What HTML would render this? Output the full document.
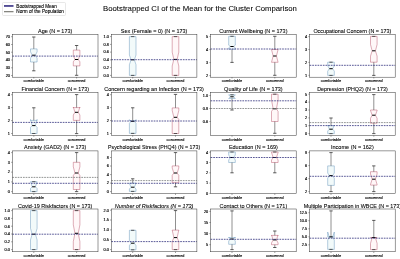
<!DOCTYPE html>
<html><head><meta charset="utf-8"><title>Bootstrapped CI of the Mean for the Cluster Comparison</title>
<style>
html,body{margin:0;padding:0;background:#fff;width:400px;height:259px;overflow:hidden}
#wrap{will-change:transform;width:400px;height:259px}
svg{display:block}
text{font-family:"Liberation Sans", sans-serif}
</style></head><body>
<div id="wrap"><svg width="400" height="259" viewBox="0 0 400 259" font-family="&quot;Liberation Sans&quot;, sans-serif">
<rect width="400" height="259" fill="#fff"/>
<text x="200.00" y="11.25" text-anchor="middle" font-size="7.36" textLength="193.86" lengthAdjust="spacingAndGlyphs" text-rendering="optimizeLegibility" stroke="#000" stroke-width="0.06">Bootstrapped CI of the Mean for the Cluster Comparison</text>
<rect x="2.5" y="2.5" width="63" height="13" rx="1" fill="#fff" fill-opacity="0.8" stroke="#d0d0d0" stroke-width="0.5"/>
<line x1="4" y1="5.95" x2="13.5" y2="5.95" stroke="#4a4490" stroke-width="1.8"/>
<line x1="4" y1="11.7" x2="13.5" y2="11.7" stroke="#707068" stroke-width="1.1"/>
<text x="16.30" y="7.70" text-anchor="start" font-size="4.63" textLength="40.48" lengthAdjust="spacingAndGlyphs" text-rendering="optimizeLegibility" stroke="#000" stroke-width="0.10">Bootstrapped Mean</text>
<text x="16.30" y="12.80" text-anchor="start" font-size="4.63" textLength="47.66" lengthAdjust="spacingAndGlyphs" text-rendering="optimizeLegibility" stroke="#000" stroke-width="0.10">Norm of the Population</text>
<text x="55.20" y="33.00" text-anchor="middle" font-size="5.52" textLength="34.38" lengthAdjust="spacingAndGlyphs" text-rendering="optimizeLegibility" stroke="#000" stroke-width="0.08">Age (N = 173)</text>
<line x1="11.2" y1="36.7" x2="12.4" y2="36.7" stroke="#333" stroke-width="0.5"/>
<text x="10.00" y="38.05" text-anchor="end" font-size="4.07" textLength="4.31" lengthAdjust="spacingAndGlyphs" text-rendering="optimizeLegibility" stroke="#000" stroke-width="0.16">70</text>
<line x1="11.2" y1="44.5" x2="12.4" y2="44.5" stroke="#333" stroke-width="0.5"/>
<text x="10.00" y="45.85" text-anchor="end" font-size="4.07" textLength="4.31" lengthAdjust="spacingAndGlyphs" text-rendering="optimizeLegibility" stroke="#000" stroke-width="0.16">60</text>
<line x1="11.2" y1="52.2" x2="12.4" y2="52.2" stroke="#333" stroke-width="0.5"/>
<text x="10.00" y="53.55" text-anchor="end" font-size="4.07" textLength="4.31" lengthAdjust="spacingAndGlyphs" text-rendering="optimizeLegibility" stroke="#000" stroke-width="0.16">50</text>
<line x1="11.2" y1="60" x2="12.4" y2="60" stroke="#333" stroke-width="0.5"/>
<text x="10.00" y="61.35" text-anchor="end" font-size="4.07" textLength="4.31" lengthAdjust="spacingAndGlyphs" text-rendering="optimizeLegibility" stroke="#000" stroke-width="0.16">40</text>
<line x1="11.2" y1="67.8" x2="12.4" y2="67.8" stroke="#333" stroke-width="0.5"/>
<text x="10.00" y="69.15" text-anchor="end" font-size="4.07" textLength="4.31" lengthAdjust="spacingAndGlyphs" text-rendering="optimizeLegibility" stroke="#000" stroke-width="0.16">30</text>
<line x1="11.2" y1="75.5" x2="12.4" y2="75.5" stroke="#333" stroke-width="0.5"/>
<text x="10.00" y="76.85" text-anchor="end" font-size="4.07" textLength="4.31" lengthAdjust="spacingAndGlyphs" text-rendering="optimizeLegibility" stroke="#000" stroke-width="0.16">20</text>
<line x1="33.8" y1="77.2" x2="33.8" y2="78.4" stroke="#333" stroke-width="0.5"/>
<text x="33.80" y="82.40" text-anchor="middle" font-size="4.24" textLength="20.49" lengthAdjust="spacingAndGlyphs" text-rendering="optimizeLegibility" stroke="#000" stroke-width="0.14">comfortable</text>
<line x1="76.6" y1="77.2" x2="76.6" y2="78.4" stroke="#333" stroke-width="0.5"/>
<text x="76.60" y="82.40" text-anchor="middle" font-size="4.24" textLength="17.76" lengthAdjust="spacingAndGlyphs" text-rendering="optimizeLegibility" stroke="#000" stroke-width="0.14">concerned</text>
<path d="M30.5 62 L37.1 62 L37.1 58.3 L35.45 55.2 L37.1 51.8 L37.1 48.9 L30.5 48.9 L30.5 51.8 L32.15 55.2 L30.5 58.3 L30.5 62Z" fill="#f2fafa" stroke="#4a80ad" stroke-width="0.4" stroke-linejoin="miter"/>
<line x1="33.8" y1="62" x2="33.8" y2="70.8" stroke="#333333" stroke-width="0.55"/>
<line x1="33.8" y1="48.9" x2="33.8" y2="37" stroke="#333333" stroke-width="0.55"/>
<line x1="32.15" y1="70.8" x2="35.45" y2="70.8" stroke="#333333" stroke-width="0.8"/>
<line x1="32.15" y1="37" x2="35.45" y2="37" stroke="#333333" stroke-width="0.8"/>
<line x1="32.15" y1="55.2" x2="35.45" y2="55.2" stroke="#000" stroke-width="1.0"/>
<path d="M73.3 65.9 L79.9 65.9 L79.9 61.8 L78.25 59.5 L79.9 55.5 L79.9 50.1 L73.3 50.1 L73.3 55.5 L74.95 59.5 L73.3 61.8 L73.3 65.9Z" fill="#fff7f8" stroke="#a8324f" stroke-width="0.4" stroke-linejoin="miter"/>
<line x1="76.6" y1="65.9" x2="76.6" y2="75.3" stroke="#333333" stroke-width="0.55"/>
<line x1="76.6" y1="50.1" x2="76.6" y2="45.5" stroke="#333333" stroke-width="0.55"/>
<line x1="74.95" y1="75.3" x2="78.25" y2="75.3" stroke="#333333" stroke-width="0.8"/>
<line x1="74.95" y1="45.5" x2="78.25" y2="45.5" stroke="#333333" stroke-width="0.8"/>
<line x1="74.95" y1="59.5" x2="78.25" y2="59.5" stroke="#000" stroke-width="1.0"/>
<line x1="12.4" y1="56.1" x2="98" y2="56.1" stroke="#2e2e7c" stroke-width="0.8" stroke-dasharray="1.7 0.95"/>
<rect x="12.4" y="34.45" width="85.6" height="42.75" fill="none" stroke="#333" stroke-width="0.5"/>
<text x="154.10" y="33.00" text-anchor="middle" font-size="5.52" textLength="66.61" lengthAdjust="spacingAndGlyphs" text-rendering="optimizeLegibility" stroke="#000" stroke-width="0.08">Sex (Female = 0) (N = 173)</text>
<line x1="110.1" y1="36.6" x2="111.3" y2="36.6" stroke="#333" stroke-width="0.5"/>
<text x="108.90" y="37.95" text-anchor="end" font-size="4.07" textLength="5.39" lengthAdjust="spacingAndGlyphs" text-rendering="optimizeLegibility" stroke="#000" stroke-width="0.16">1.0</text>
<line x1="110.1" y1="44.4" x2="111.3" y2="44.4" stroke="#333" stroke-width="0.5"/>
<text x="108.90" y="45.75" text-anchor="end" font-size="4.07" textLength="5.39" lengthAdjust="spacingAndGlyphs" text-rendering="optimizeLegibility" stroke="#000" stroke-width="0.16">0.8</text>
<line x1="110.1" y1="52.1" x2="111.3" y2="52.1" stroke="#333" stroke-width="0.5"/>
<text x="108.90" y="53.45" text-anchor="end" font-size="4.07" textLength="5.39" lengthAdjust="spacingAndGlyphs" text-rendering="optimizeLegibility" stroke="#000" stroke-width="0.16">0.6</text>
<line x1="110.1" y1="59.9" x2="111.3" y2="59.9" stroke="#333" stroke-width="0.5"/>
<text x="108.90" y="61.25" text-anchor="end" font-size="4.07" textLength="5.39" lengthAdjust="spacingAndGlyphs" text-rendering="optimizeLegibility" stroke="#000" stroke-width="0.16">0.4</text>
<line x1="110.1" y1="67.6" x2="111.3" y2="67.6" stroke="#333" stroke-width="0.5"/>
<text x="108.90" y="68.95" text-anchor="end" font-size="4.07" textLength="5.39" lengthAdjust="spacingAndGlyphs" text-rendering="optimizeLegibility" stroke="#000" stroke-width="0.16">0.2</text>
<line x1="110.1" y1="75.4" x2="111.3" y2="75.4" stroke="#333" stroke-width="0.5"/>
<text x="108.90" y="76.75" text-anchor="end" font-size="4.07" textLength="5.39" lengthAdjust="spacingAndGlyphs" text-rendering="optimizeLegibility" stroke="#000" stroke-width="0.16">0.0</text>
<line x1="132.7" y1="77.2" x2="132.7" y2="78.4" stroke="#333" stroke-width="0.5"/>
<text x="132.70" y="82.40" text-anchor="middle" font-size="4.24" textLength="20.49" lengthAdjust="spacingAndGlyphs" text-rendering="optimizeLegibility" stroke="#000" stroke-width="0.14">comfortable</text>
<line x1="175.5" y1="77.2" x2="175.5" y2="78.4" stroke="#333" stroke-width="0.5"/>
<text x="175.50" y="82.40" text-anchor="middle" font-size="4.24" textLength="17.76" lengthAdjust="spacingAndGlyphs" text-rendering="optimizeLegibility" stroke="#000" stroke-width="0.14">concerned</text>
<path d="M129.4 75.4 L136 75.4 L136 64.7 L134.35 59.8 L136 55 L136 36.6 L129.4 36.6 L129.4 55 L131.05 59.8 L129.4 64.7 L129.4 75.4Z" fill="#f2fafa" stroke="#4a80ad" stroke-width="0.4" stroke-linejoin="miter"/>
<line x1="131.05" y1="75.4" x2="134.35" y2="75.4" stroke="#333333" stroke-width="0.8"/>
<line x1="131.05" y1="36.6" x2="134.35" y2="36.6" stroke="#333333" stroke-width="0.8"/>
<line x1="131.05" y1="59.8" x2="134.35" y2="59.8" stroke="#000" stroke-width="1.0"/>
<path d="M172.2 75.4 L178.8 75.4 L178.8 66 L177.15 59.4 L178.8 52.1 L178.8 36.6 L172.2 36.6 L172.2 52.1 L173.85 59.4 L172.2 66 L172.2 75.4Z" fill="#fff7f8" stroke="#a8324f" stroke-width="0.4" stroke-linejoin="miter"/>
<line x1="173.85" y1="75.4" x2="177.15" y2="75.4" stroke="#333333" stroke-width="0.8"/>
<line x1="173.85" y1="36.6" x2="177.15" y2="36.6" stroke="#333333" stroke-width="0.8"/>
<line x1="173.85" y1="59.4" x2="177.15" y2="59.4" stroke="#000" stroke-width="1.0"/>
<line x1="111.3" y1="59.7" x2="196.9" y2="59.7" stroke="#2e2e7c" stroke-width="0.8" stroke-dasharray="1.7 0.95"/>
<rect x="111.3" y="34.45" width="85.6" height="42.75" fill="none" stroke="#333" stroke-width="0.5"/>
<text x="253.40" y="33.00" text-anchor="middle" font-size="5.52" textLength="68.16" lengthAdjust="spacingAndGlyphs" text-rendering="optimizeLegibility" stroke="#000" stroke-width="0.08">Current Wellbeing (N = 173)</text>
<line x1="209.4" y1="36.6" x2="210.6" y2="36.6" stroke="#333" stroke-width="0.5"/>
<text x="208.20" y="37.95" text-anchor="end" font-size="4.07" textLength="2.16" lengthAdjust="spacingAndGlyphs" text-rendering="optimizeLegibility" stroke="#000" stroke-width="0.16">5</text>
<line x1="209.4" y1="49.6" x2="210.6" y2="49.6" stroke="#333" stroke-width="0.5"/>
<text x="208.20" y="50.95" text-anchor="end" font-size="4.07" textLength="2.16" lengthAdjust="spacingAndGlyphs" text-rendering="optimizeLegibility" stroke="#000" stroke-width="0.16">4</text>
<line x1="209.4" y1="62.6" x2="210.6" y2="62.6" stroke="#333" stroke-width="0.5"/>
<text x="208.20" y="63.95" text-anchor="end" font-size="4.07" textLength="2.16" lengthAdjust="spacingAndGlyphs" text-rendering="optimizeLegibility" stroke="#000" stroke-width="0.16">3</text>
<line x1="209.4" y1="75.6" x2="210.6" y2="75.6" stroke="#333" stroke-width="0.5"/>
<text x="208.20" y="76.95" text-anchor="end" font-size="4.07" textLength="2.16" lengthAdjust="spacingAndGlyphs" text-rendering="optimizeLegibility" stroke="#000" stroke-width="0.16">2</text>
<line x1="232" y1="77.2" x2="232" y2="78.4" stroke="#333" stroke-width="0.5"/>
<text x="232.00" y="82.40" text-anchor="middle" font-size="4.24" textLength="20.49" lengthAdjust="spacingAndGlyphs" text-rendering="optimizeLegibility" stroke="#000" stroke-width="0.14">comfortable</text>
<line x1="274.8" y1="77.2" x2="274.8" y2="78.4" stroke="#333" stroke-width="0.5"/>
<text x="274.80" y="82.40" text-anchor="middle" font-size="4.24" textLength="17.76" lengthAdjust="spacingAndGlyphs" text-rendering="optimizeLegibility" stroke="#000" stroke-width="0.14">concerned</text>
<path d="M228.7 49.3 L235.3 49.3 L235.3 47.8 L233.65 46.5 L235.3 45.2 L235.3 36.3 L228.7 36.3 L228.7 45.2 L230.35 46.5 L228.7 47.8 L228.7 49.3Z" fill="#f2fafa" stroke="#4a80ad" stroke-width="0.4" stroke-linejoin="miter"/>
<line x1="232" y1="49.3" x2="232" y2="62.4" stroke="#333333" stroke-width="0.55"/>
<line x1="230.35" y1="62.4" x2="233.65" y2="62.4" stroke="#333333" stroke-width="0.8"/>
<line x1="230.35" y1="36.3" x2="233.65" y2="36.3" stroke="#333333" stroke-width="0.8"/>
<line x1="230.35" y1="46.5" x2="233.65" y2="46.5" stroke="#000" stroke-width="1.0"/>
<path d="M271.5 62.3 L278.1 62.3 L278.1 62.3 L276.45 56 L278.1 49.5 L278.1 49.5 L271.5 49.5 L271.5 49.5 L273.15 56 L271.5 62.3 L271.5 62.3Z" fill="#fff7f8" stroke="#a8324f" stroke-width="0.4" stroke-linejoin="miter"/>
<line x1="274.8" y1="62.3" x2="274.8" y2="75.3" stroke="#333333" stroke-width="0.55"/>
<line x1="274.8" y1="49.5" x2="274.8" y2="36.3" stroke="#333333" stroke-width="0.55"/>
<line x1="273.15" y1="75.3" x2="276.45" y2="75.3" stroke="#333333" stroke-width="0.8"/>
<line x1="273.15" y1="36.3" x2="276.45" y2="36.3" stroke="#333333" stroke-width="0.8"/>
<line x1="273.15" y1="56" x2="276.45" y2="56" stroke="#000" stroke-width="1.0"/>
<line x1="210.6" y1="49" x2="296.2" y2="49" stroke="#2e2e7c" stroke-width="0.8" stroke-dasharray="1.7 0.95"/>
<rect x="210.6" y="34.45" width="85.6" height="42.75" fill="none" stroke="#333" stroke-width="0.5"/>
<text x="352.40" y="33.00" text-anchor="middle" font-size="5.52" textLength="78.03" lengthAdjust="spacingAndGlyphs" text-rendering="optimizeLegibility" stroke="#000" stroke-width="0.08">Occupational Concern (N = 173)</text>
<line x1="308.4" y1="36.6" x2="309.6" y2="36.6" stroke="#333" stroke-width="0.5"/>
<text x="307.20" y="37.95" text-anchor="end" font-size="4.07" textLength="2.16" lengthAdjust="spacingAndGlyphs" text-rendering="optimizeLegibility" stroke="#000" stroke-width="0.16">4</text>
<line x1="308.4" y1="49.5" x2="309.6" y2="49.5" stroke="#333" stroke-width="0.5"/>
<text x="307.20" y="50.85" text-anchor="end" font-size="4.07" textLength="2.16" lengthAdjust="spacingAndGlyphs" text-rendering="optimizeLegibility" stroke="#000" stroke-width="0.16">3</text>
<line x1="308.4" y1="62.4" x2="309.6" y2="62.4" stroke="#333" stroke-width="0.5"/>
<text x="307.20" y="63.75" text-anchor="end" font-size="4.07" textLength="2.16" lengthAdjust="spacingAndGlyphs" text-rendering="optimizeLegibility" stroke="#000" stroke-width="0.16">2</text>
<line x1="308.4" y1="75.3" x2="309.6" y2="75.3" stroke="#333" stroke-width="0.5"/>
<text x="307.20" y="76.65" text-anchor="end" font-size="4.07" textLength="2.16" lengthAdjust="spacingAndGlyphs" text-rendering="optimizeLegibility" stroke="#000" stroke-width="0.16">1</text>
<line x1="331" y1="77.2" x2="331" y2="78.4" stroke="#333" stroke-width="0.5"/>
<text x="331.00" y="82.40" text-anchor="middle" font-size="4.24" textLength="20.49" lengthAdjust="spacingAndGlyphs" text-rendering="optimizeLegibility" stroke="#000" stroke-width="0.14">comfortable</text>
<line x1="373.8" y1="77.2" x2="373.8" y2="78.4" stroke="#333" stroke-width="0.5"/>
<text x="373.80" y="82.40" text-anchor="middle" font-size="4.24" textLength="17.76" lengthAdjust="spacingAndGlyphs" text-rendering="optimizeLegibility" stroke="#000" stroke-width="0.14">concerned</text>
<path d="M327.7 75.4 L334.3 75.4 L334.3 71.2 L332.65 68.7 L334.3 65.9 L334.3 62.2 L327.7 62.2 L327.7 65.9 L329.35 68.7 L327.7 71.2 L327.7 75.4Z" fill="#f2fafa" stroke="#4a80ad" stroke-width="0.4" stroke-linejoin="miter"/>
<line x1="329.35" y1="75.4" x2="332.65" y2="75.4" stroke="#333333" stroke-width="0.8"/>
<line x1="329.35" y1="62.2" x2="332.65" y2="62.2" stroke="#333333" stroke-width="0.8"/>
<line x1="329.35" y1="68.7" x2="332.65" y2="68.7" stroke="#000" stroke-width="1.0"/>
<path d="M370.5 62.2 L377.1 62.2 L377.1 56.1 L375.45 50.8 L377.1 44.5 L377.1 36.4 L370.5 36.4 L370.5 44.5 L372.15 50.8 L370.5 56.1 L370.5 62.2Z" fill="#fff7f8" stroke="#a8324f" stroke-width="0.4" stroke-linejoin="miter"/>
<line x1="373.8" y1="62.2" x2="373.8" y2="75.4" stroke="#333333" stroke-width="0.55"/>
<line x1="372.15" y1="75.4" x2="375.45" y2="75.4" stroke="#333333" stroke-width="0.8"/>
<line x1="372.15" y1="36.4" x2="375.45" y2="36.4" stroke="#333333" stroke-width="0.8"/>
<line x1="372.15" y1="50.8" x2="375.45" y2="50.8" stroke="#000" stroke-width="1.0"/>
<line x1="309.6" y1="65.3" x2="395.2" y2="65.3" stroke="#2e2e7c" stroke-width="0.8" stroke-dasharray="1.7 0.95"/>
<rect x="309.6" y="34.45" width="85.6" height="42.75" fill="none" stroke="#333" stroke-width="0.5"/>
<text x="55.20" y="91.25" text-anchor="middle" font-size="5.52" textLength="67.50" lengthAdjust="spacingAndGlyphs" text-rendering="optimizeLegibility" stroke="#000" stroke-width="0.08">Financial Concern (N = 173)</text>
<line x1="11.2" y1="94.7" x2="12.4" y2="94.7" stroke="#333" stroke-width="0.5"/>
<text x="10.00" y="96.05" text-anchor="end" font-size="4.07" textLength="2.16" lengthAdjust="spacingAndGlyphs" text-rendering="optimizeLegibility" stroke="#000" stroke-width="0.16">4</text>
<line x1="11.2" y1="107.6" x2="12.4" y2="107.6" stroke="#333" stroke-width="0.5"/>
<text x="10.00" y="108.95" text-anchor="end" font-size="4.07" textLength="2.16" lengthAdjust="spacingAndGlyphs" text-rendering="optimizeLegibility" stroke="#000" stroke-width="0.16">3</text>
<line x1="11.2" y1="120.6" x2="12.4" y2="120.6" stroke="#333" stroke-width="0.5"/>
<text x="10.00" y="121.95" text-anchor="end" font-size="4.07" textLength="2.16" lengthAdjust="spacingAndGlyphs" text-rendering="optimizeLegibility" stroke="#000" stroke-width="0.16">2</text>
<line x1="11.2" y1="133.5" x2="12.4" y2="133.5" stroke="#333" stroke-width="0.5"/>
<text x="10.00" y="134.85" text-anchor="end" font-size="4.07" textLength="2.16" lengthAdjust="spacingAndGlyphs" text-rendering="optimizeLegibility" stroke="#000" stroke-width="0.16">1</text>
<line x1="33.8" y1="135.45" x2="33.8" y2="136.65" stroke="#333" stroke-width="0.5"/>
<text x="33.80" y="140.65" text-anchor="middle" font-size="4.24" textLength="20.49" lengthAdjust="spacingAndGlyphs" text-rendering="optimizeLegibility" stroke="#000" stroke-width="0.14">comfortable</text>
<line x1="76.6" y1="135.45" x2="76.6" y2="136.65" stroke="#333" stroke-width="0.5"/>
<text x="76.60" y="140.65" text-anchor="middle" font-size="4.24" textLength="17.76" lengthAdjust="spacingAndGlyphs" text-rendering="optimizeLegibility" stroke="#000" stroke-width="0.14">concerned</text>
<path d="M30.5 133.5 L37.1 133.5 L37.1 127.4 L35.45 125.6 L37.1 119.5 L37.1 120.4 L30.5 120.4 L30.5 119.5 L32.15 125.6 L30.5 127.4 L30.5 133.5Z" fill="#f2fafa" stroke="#4a80ad" stroke-width="0.4" stroke-linejoin="miter"/>
<line x1="33.8" y1="120.4" x2="33.8" y2="107.8" stroke="#333333" stroke-width="0.55"/>
<line x1="32.15" y1="133.5" x2="35.45" y2="133.5" stroke="#333333" stroke-width="0.8"/>
<line x1="32.15" y1="107.8" x2="35.45" y2="107.8" stroke="#333333" stroke-width="0.8"/>
<line x1="32.15" y1="125.6" x2="35.45" y2="125.6" stroke="#000" stroke-width="1.0"/>
<path d="M73.3 120.4 L79.9 120.4 L79.9 115 L78.25 112.3 L79.9 107 L79.9 107.6 L73.3 107.6 L73.3 107 L74.95 112.3 L73.3 115 L73.3 120.4Z" fill="#fff7f8" stroke="#a8324f" stroke-width="0.4" stroke-linejoin="miter"/>
<line x1="76.6" y1="120.4" x2="76.6" y2="133.6" stroke="#333333" stroke-width="0.55"/>
<line x1="76.6" y1="107.6" x2="76.6" y2="94.6" stroke="#333333" stroke-width="0.55"/>
<line x1="74.95" y1="133.6" x2="78.25" y2="133.6" stroke="#333333" stroke-width="0.8"/>
<line x1="74.95" y1="94.6" x2="78.25" y2="94.6" stroke="#333333" stroke-width="0.8"/>
<line x1="74.95" y1="112.3" x2="78.25" y2="112.3" stroke="#000" stroke-width="1.0"/>
<line x1="12.4" y1="122.4" x2="98" y2="122.4" stroke="#2e2e7c" stroke-width="0.8" stroke-dasharray="1.7 0.95"/>
<rect x="12.4" y="92.7" width="85.6" height="42.75" fill="none" stroke="#333" stroke-width="0.5"/>
<text x="154.10" y="91.25" text-anchor="middle" font-size="5.52" textLength="99.61" lengthAdjust="spacingAndGlyphs" text-rendering="optimizeLegibility" stroke="#000" stroke-width="0.08">Concern regarding an Infection (N = 173)</text>
<line x1="110.1" y1="94.7" x2="111.3" y2="94.7" stroke="#333" stroke-width="0.5"/>
<text x="108.90" y="96.05" text-anchor="end" font-size="4.07" textLength="2.16" lengthAdjust="spacingAndGlyphs" text-rendering="optimizeLegibility" stroke="#000" stroke-width="0.16">4</text>
<line x1="110.1" y1="107.6" x2="111.3" y2="107.6" stroke="#333" stroke-width="0.5"/>
<text x="108.90" y="108.95" text-anchor="end" font-size="4.07" textLength="2.16" lengthAdjust="spacingAndGlyphs" text-rendering="optimizeLegibility" stroke="#000" stroke-width="0.16">3</text>
<line x1="110.1" y1="120.6" x2="111.3" y2="120.6" stroke="#333" stroke-width="0.5"/>
<text x="108.90" y="121.95" text-anchor="end" font-size="4.07" textLength="2.16" lengthAdjust="spacingAndGlyphs" text-rendering="optimizeLegibility" stroke="#000" stroke-width="0.16">2</text>
<line x1="110.1" y1="133.5" x2="111.3" y2="133.5" stroke="#333" stroke-width="0.5"/>
<text x="108.90" y="134.85" text-anchor="end" font-size="4.07" textLength="2.16" lengthAdjust="spacingAndGlyphs" text-rendering="optimizeLegibility" stroke="#000" stroke-width="0.16">1</text>
<line x1="132.7" y1="135.45" x2="132.7" y2="136.65" stroke="#333" stroke-width="0.5"/>
<text x="132.70" y="140.65" text-anchor="middle" font-size="4.24" textLength="20.49" lengthAdjust="spacingAndGlyphs" text-rendering="optimizeLegibility" stroke="#000" stroke-width="0.14">comfortable</text>
<line x1="175.5" y1="135.45" x2="175.5" y2="136.65" stroke="#333" stroke-width="0.5"/>
<text x="175.50" y="140.65" text-anchor="middle" font-size="4.24" textLength="17.76" lengthAdjust="spacingAndGlyphs" text-rendering="optimizeLegibility" stroke="#000" stroke-width="0.14">concerned</text>
<path d="M129.4 133.4 L136 133.4 L136 123.3 L134.35 121.3 L136 119.6 L136 120.7 L129.4 120.7 L129.4 119.6 L131.05 121.3 L129.4 123.3 L129.4 133.4Z" fill="#f2fafa" stroke="#4a80ad" stroke-width="0.4" stroke-linejoin="miter"/>
<line x1="132.7" y1="120.7" x2="132.7" y2="107.8" stroke="#333333" stroke-width="0.55"/>
<line x1="131.05" y1="133.4" x2="134.35" y2="133.4" stroke="#333333" stroke-width="0.8"/>
<line x1="131.05" y1="107.8" x2="134.35" y2="107.8" stroke="#333333" stroke-width="0.8"/>
<line x1="131.05" y1="121.3" x2="134.35" y2="121.3" stroke="#000" stroke-width="1.0"/>
<path d="M172.2 133.5 L178.8 133.5 L178.8 119.4 L177.15 117.3 L178.8 110.5 L178.8 107.9 L172.2 107.9 L172.2 110.5 L173.85 117.3 L172.2 119.4 L172.2 133.5Z" fill="#fff7f8" stroke="#a8324f" stroke-width="0.4" stroke-linejoin="miter"/>
<line x1="175.5" y1="107.9" x2="175.5" y2="94.4" stroke="#333333" stroke-width="0.55"/>
<line x1="173.85" y1="133.5" x2="177.15" y2="133.5" stroke="#333333" stroke-width="0.8"/>
<line x1="173.85" y1="94.4" x2="177.15" y2="94.4" stroke="#333333" stroke-width="0.8"/>
<line x1="173.85" y1="117.3" x2="177.15" y2="117.3" stroke="#000" stroke-width="1.0"/>
<line x1="111.3" y1="121" x2="196.9" y2="121" stroke="#2e2e7c" stroke-width="0.8" stroke-dasharray="1.7 0.95"/>
<rect x="111.3" y="92.7" width="85.6" height="42.75" fill="none" stroke="#333" stroke-width="0.5"/>
<text x="253.40" y="91.25" text-anchor="middle" font-size="5.52" textLength="58.58" lengthAdjust="spacingAndGlyphs" text-rendering="optimizeLegibility" stroke="#000" stroke-width="0.08">Quality of Life (N = 173)</text>
<line x1="209.4" y1="95.5" x2="210.6" y2="95.5" stroke="#333" stroke-width="0.5"/>
<text x="208.20" y="96.85" text-anchor="end" font-size="4.07" textLength="5.39" lengthAdjust="spacingAndGlyphs" text-rendering="optimizeLegibility" stroke="#000" stroke-width="0.16">1.0</text>
<line x1="209.4" y1="108.5" x2="210.6" y2="108.5" stroke="#333" stroke-width="0.5"/>
<text x="208.20" y="109.85" text-anchor="end" font-size="4.07" textLength="5.39" lengthAdjust="spacingAndGlyphs" text-rendering="optimizeLegibility" stroke="#000" stroke-width="0.16">0.8</text>
<line x1="209.4" y1="121.5" x2="210.6" y2="121.5" stroke="#333" stroke-width="0.5"/>
<text x="208.20" y="122.85" text-anchor="end" font-size="4.07" textLength="5.39" lengthAdjust="spacingAndGlyphs" text-rendering="optimizeLegibility" stroke="#000" stroke-width="0.16">0.6</text>
<line x1="232" y1="135.45" x2="232" y2="136.65" stroke="#333" stroke-width="0.5"/>
<text x="232.00" y="140.65" text-anchor="middle" font-size="4.24" textLength="20.49" lengthAdjust="spacingAndGlyphs" text-rendering="optimizeLegibility" stroke="#000" stroke-width="0.14">comfortable</text>
<line x1="274.8" y1="135.45" x2="274.8" y2="136.65" stroke="#333" stroke-width="0.5"/>
<text x="274.80" y="140.65" text-anchor="middle" font-size="4.24" textLength="17.76" lengthAdjust="spacingAndGlyphs" text-rendering="optimizeLegibility" stroke="#000" stroke-width="0.14">concerned</text>
<path d="M228.7 98.5 L235.3 98.5 L235.3 98.5 L233.65 96.8 L235.3 94.8 L235.3 94.8 L228.7 94.8 L228.7 94.8 L230.35 96.8 L228.7 98.5 L228.7 98.5Z" fill="#f2fafa" stroke="#4a80ad" stroke-width="0.4" stroke-linejoin="miter"/>
<line x1="232" y1="98.5" x2="232" y2="110" stroke="#333333" stroke-width="0.55"/>
<line x1="230.35" y1="110" x2="233.65" y2="110" stroke="#333333" stroke-width="0.8"/>
<line x1="230.35" y1="94.8" x2="233.65" y2="94.8" stroke="#333333" stroke-width="0.8"/>
<line x1="230.35" y1="96.8" x2="233.65" y2="96.8" stroke="#000" stroke-width="1.0"/>
<path d="M271.5 121.5 L278.1 121.5 L278.1 111.5 L276.45 108.8 L278.1 100 L278.1 94.2 L271.5 94.2 L271.5 100 L273.15 108.8 L271.5 111.5 L271.5 121.5Z" fill="#fff7f8" stroke="#a8324f" stroke-width="0.4" stroke-linejoin="miter"/>
<line x1="274.8" y1="121.5" x2="274.8" y2="133.3" stroke="#333333" stroke-width="0.55"/>
<line x1="273.15" y1="133.3" x2="276.45" y2="133.3" stroke="#333333" stroke-width="0.8"/>
<line x1="273.15" y1="94.2" x2="276.45" y2="94.2" stroke="#333333" stroke-width="0.8"/>
<line x1="273.15" y1="108.8" x2="276.45" y2="108.8" stroke="#000" stroke-width="1.0"/>
<line x1="210.6" y1="108.5" x2="296.2" y2="108.5" stroke="#767a78" stroke-width="0.8" stroke-dasharray="1.7 0.95"/>
<line x1="210.6" y1="100.8" x2="296.2" y2="100.8" stroke="#2e2e7c" stroke-width="0.8" stroke-dasharray="1.7 0.95"/>
<rect x="210.6" y="92.7" width="85.6" height="42.75" fill="none" stroke="#333" stroke-width="0.5"/>
<text x="352.40" y="91.25" text-anchor="middle" font-size="5.52" textLength="70.54" lengthAdjust="spacingAndGlyphs" text-rendering="optimizeLegibility" stroke="#000" stroke-width="0.08">Depression (PHQ2) (N = 173)</text>
<line x1="308.4" y1="94.2" x2="309.6" y2="94.2" stroke="#333" stroke-width="0.5"/>
<text x="307.20" y="95.55" text-anchor="end" font-size="4.07" textLength="2.16" lengthAdjust="spacingAndGlyphs" text-rendering="optimizeLegibility" stroke="#000" stroke-width="0.16">5</text>
<line x1="308.4" y1="102.1" x2="309.6" y2="102.1" stroke="#333" stroke-width="0.5"/>
<text x="307.20" y="103.45" text-anchor="end" font-size="4.07" textLength="2.16" lengthAdjust="spacingAndGlyphs" text-rendering="optimizeLegibility" stroke="#000" stroke-width="0.16">4</text>
<line x1="308.4" y1="110" x2="309.6" y2="110" stroke="#333" stroke-width="0.5"/>
<text x="307.20" y="111.35" text-anchor="end" font-size="4.07" textLength="2.16" lengthAdjust="spacingAndGlyphs" text-rendering="optimizeLegibility" stroke="#000" stroke-width="0.16">3</text>
<line x1="308.4" y1="117.9" x2="309.6" y2="117.9" stroke="#333" stroke-width="0.5"/>
<text x="307.20" y="119.25" text-anchor="end" font-size="4.07" textLength="2.16" lengthAdjust="spacingAndGlyphs" text-rendering="optimizeLegibility" stroke="#000" stroke-width="0.16">2</text>
<line x1="308.4" y1="125.7" x2="309.6" y2="125.7" stroke="#333" stroke-width="0.5"/>
<text x="307.20" y="127.05" text-anchor="end" font-size="4.07" textLength="2.16" lengthAdjust="spacingAndGlyphs" text-rendering="optimizeLegibility" stroke="#000" stroke-width="0.16">1</text>
<line x1="308.4" y1="133.6" x2="309.6" y2="133.6" stroke="#333" stroke-width="0.5"/>
<text x="307.20" y="134.95" text-anchor="end" font-size="4.07" textLength="2.16" lengthAdjust="spacingAndGlyphs" text-rendering="optimizeLegibility" stroke="#000" stroke-width="0.16">0</text>
<line x1="331" y1="135.45" x2="331" y2="136.65" stroke="#333" stroke-width="0.5"/>
<text x="331.00" y="140.65" text-anchor="middle" font-size="4.24" textLength="20.49" lengthAdjust="spacingAndGlyphs" text-rendering="optimizeLegibility" stroke="#000" stroke-width="0.14">comfortable</text>
<line x1="373.8" y1="135.45" x2="373.8" y2="136.65" stroke="#333" stroke-width="0.5"/>
<text x="373.80" y="140.65" text-anchor="middle" font-size="4.24" textLength="17.76" lengthAdjust="spacingAndGlyphs" text-rendering="optimizeLegibility" stroke="#000" stroke-width="0.14">concerned</text>
<path d="M327.7 133.6 L334.3 133.6 L334.3 131 L332.65 129.2 L334.3 125 L334.3 125.7 L327.7 125.7 L327.7 125 L329.35 129.2 L327.7 131 L327.7 133.6Z" fill="#f2fafa" stroke="#4a80ad" stroke-width="0.4" stroke-linejoin="miter"/>
<line x1="331" y1="125.7" x2="331" y2="118" stroke="#333333" stroke-width="0.55"/>
<line x1="329.35" y1="133.6" x2="332.65" y2="133.6" stroke="#333333" stroke-width="0.8"/>
<line x1="329.35" y1="118" x2="332.65" y2="118" stroke="#333333" stroke-width="0.8"/>
<line x1="329.35" y1="129.2" x2="332.65" y2="129.2" stroke="#000" stroke-width="1.0"/>
<path d="M370.5 123.2 L377.1 123.2 L377.1 118.3 L375.45 115.2 L377.1 110.5 L377.1 110 L370.5 110 L370.5 110.5 L372.15 115.2 L370.5 118.3 L370.5 123.2Z" fill="#fff7f8" stroke="#a8324f" stroke-width="0.4" stroke-linejoin="miter"/>
<line x1="373.8" y1="123.2" x2="373.8" y2="133.6" stroke="#333333" stroke-width="0.55"/>
<line x1="373.8" y1="110" x2="373.8" y2="94.6" stroke="#333333" stroke-width="0.55"/>
<line x1="372.15" y1="133.6" x2="375.45" y2="133.6" stroke="#333333" stroke-width="0.8"/>
<line x1="372.15" y1="94.6" x2="375.45" y2="94.6" stroke="#333333" stroke-width="0.8"/>
<line x1="372.15" y1="115.2" x2="375.45" y2="115.2" stroke="#000" stroke-width="1.0"/>
<line x1="309.6" y1="122.6" x2="395.2" y2="122.6" stroke="#767a78" stroke-width="0.8" stroke-dasharray="1.7 0.95"/>
<line x1="309.6" y1="125.6" x2="395.2" y2="125.6" stroke="#2e2e7c" stroke-width="0.8" stroke-dasharray="1.7 0.95"/>
<rect x="309.6" y="92.7" width="85.6" height="42.75" fill="none" stroke="#333" stroke-width="0.5"/>
<text x="55.20" y="149.45" text-anchor="middle" font-size="5.52" textLength="62.30" lengthAdjust="spacingAndGlyphs" text-rendering="optimizeLegibility" stroke="#000" stroke-width="0.08">Anxiety (GAD2) (N = 173)</text>
<line x1="11.2" y1="152.6" x2="12.4" y2="152.6" stroke="#333" stroke-width="0.5"/>
<text x="10.00" y="153.95" text-anchor="end" font-size="4.07" textLength="2.16" lengthAdjust="spacingAndGlyphs" text-rendering="optimizeLegibility" stroke="#000" stroke-width="0.16">4</text>
<line x1="11.2" y1="162.3" x2="12.4" y2="162.3" stroke="#333" stroke-width="0.5"/>
<text x="10.00" y="163.65" text-anchor="end" font-size="4.07" textLength="2.16" lengthAdjust="spacingAndGlyphs" text-rendering="optimizeLegibility" stroke="#000" stroke-width="0.16">3</text>
<line x1="11.2" y1="172.1" x2="12.4" y2="172.1" stroke="#333" stroke-width="0.5"/>
<text x="10.00" y="173.45" text-anchor="end" font-size="4.07" textLength="2.16" lengthAdjust="spacingAndGlyphs" text-rendering="optimizeLegibility" stroke="#000" stroke-width="0.16">2</text>
<line x1="11.2" y1="181.9" x2="12.4" y2="181.9" stroke="#333" stroke-width="0.5"/>
<text x="10.00" y="183.25" text-anchor="end" font-size="4.07" textLength="2.16" lengthAdjust="spacingAndGlyphs" text-rendering="optimizeLegibility" stroke="#000" stroke-width="0.16">1</text>
<line x1="11.2" y1="191.6" x2="12.4" y2="191.6" stroke="#333" stroke-width="0.5"/>
<text x="10.00" y="192.95" text-anchor="end" font-size="4.07" textLength="2.16" lengthAdjust="spacingAndGlyphs" text-rendering="optimizeLegibility" stroke="#000" stroke-width="0.16">0</text>
<line x1="33.8" y1="193.65" x2="33.8" y2="194.85" stroke="#333" stroke-width="0.5"/>
<text x="33.80" y="198.85" text-anchor="middle" font-size="4.24" textLength="20.49" lengthAdjust="spacingAndGlyphs" text-rendering="optimizeLegibility" stroke="#000" stroke-width="0.14">comfortable</text>
<line x1="76.6" y1="193.65" x2="76.6" y2="194.85" stroke="#333" stroke-width="0.5"/>
<text x="76.60" y="198.85" text-anchor="middle" font-size="4.24" textLength="17.76" lengthAdjust="spacingAndGlyphs" text-rendering="optimizeLegibility" stroke="#000" stroke-width="0.14">concerned</text>
<path d="M30.5 191.6 L37.1 191.6 L37.1 188.5 L35.45 186.8 L37.1 181.7 L37.1 181.7 L30.5 181.7 L30.5 181.7 L32.15 186.8 L30.5 188.5 L30.5 191.6Z" fill="#f2fafa" stroke="#4a80ad" stroke-width="0.4" stroke-linejoin="miter"/>
<line x1="32.15" y1="191.6" x2="35.45" y2="191.6" stroke="#333333" stroke-width="0.8"/>
<line x1="32.15" y1="181.7" x2="35.45" y2="181.7" stroke="#333333" stroke-width="0.8"/>
<line x1="32.15" y1="186.8" x2="35.45" y2="186.8" stroke="#000" stroke-width="1.0"/>
<path d="M73.3 189.5 L79.9 189.5 L79.9 175.6 L78.25 173 L79.9 166.8 L79.9 162.3 L73.3 162.3 L73.3 166.8 L74.95 173 L73.3 175.6 L73.3 189.5Z" fill="#fff7f8" stroke="#a8324f" stroke-width="0.4" stroke-linejoin="miter"/>
<line x1="76.6" y1="189.5" x2="76.6" y2="191.6" stroke="#333333" stroke-width="0.55"/>
<line x1="76.6" y1="162.3" x2="76.6" y2="152.6" stroke="#333333" stroke-width="0.55"/>
<line x1="74.95" y1="191.6" x2="78.25" y2="191.6" stroke="#333333" stroke-width="0.8"/>
<line x1="74.95" y1="152.6" x2="78.25" y2="152.6" stroke="#333333" stroke-width="0.8"/>
<line x1="74.95" y1="173" x2="78.25" y2="173" stroke="#000" stroke-width="1.0"/>
<line x1="12.4" y1="177.4" x2="98" y2="177.4" stroke="#767a78" stroke-width="0.8" stroke-dasharray="1.7 0.95"/>
<line x1="12.4" y1="183.3" x2="98" y2="183.3" stroke="#2e2e7c" stroke-width="0.8" stroke-dasharray="1.7 0.95"/>
<rect x="12.4" y="150.9" width="85.6" height="42.75" fill="none" stroke="#333" stroke-width="0.5"/>
<text x="154.10" y="149.45" text-anchor="middle" font-size="5.52" textLength="92.32" lengthAdjust="spacingAndGlyphs" text-rendering="optimizeLegibility" stroke="#000" stroke-width="0.08">Psychological Stress (PHQ4) (N = 173)</text>
<line x1="110.1" y1="157.5" x2="111.3" y2="157.5" stroke="#333" stroke-width="0.5"/>
<text x="108.90" y="158.85" text-anchor="end" font-size="4.07" textLength="2.16" lengthAdjust="spacingAndGlyphs" text-rendering="optimizeLegibility" stroke="#000" stroke-width="0.16">8</text>
<line x1="110.1" y1="166" x2="111.3" y2="166" stroke="#333" stroke-width="0.5"/>
<text x="108.90" y="167.35" text-anchor="end" font-size="4.07" textLength="2.16" lengthAdjust="spacingAndGlyphs" text-rendering="optimizeLegibility" stroke="#000" stroke-width="0.16">6</text>
<line x1="110.1" y1="174.6" x2="111.3" y2="174.6" stroke="#333" stroke-width="0.5"/>
<text x="108.90" y="175.95" text-anchor="end" font-size="4.07" textLength="2.16" lengthAdjust="spacingAndGlyphs" text-rendering="optimizeLegibility" stroke="#000" stroke-width="0.16">4</text>
<line x1="110.1" y1="183.1" x2="111.3" y2="183.1" stroke="#333" stroke-width="0.5"/>
<text x="108.90" y="184.45" text-anchor="end" font-size="4.07" textLength="2.16" lengthAdjust="spacingAndGlyphs" text-rendering="optimizeLegibility" stroke="#000" stroke-width="0.16">2</text>
<line x1="110.1" y1="191.6" x2="111.3" y2="191.6" stroke="#333" stroke-width="0.5"/>
<text x="108.90" y="192.95" text-anchor="end" font-size="4.07" textLength="2.16" lengthAdjust="spacingAndGlyphs" text-rendering="optimizeLegibility" stroke="#000" stroke-width="0.16">0</text>
<line x1="132.7" y1="193.65" x2="132.7" y2="194.85" stroke="#333" stroke-width="0.5"/>
<text x="132.70" y="198.85" text-anchor="middle" font-size="4.24" textLength="20.49" lengthAdjust="spacingAndGlyphs" text-rendering="optimizeLegibility" stroke="#000" stroke-width="0.14">comfortable</text>
<line x1="175.5" y1="193.65" x2="175.5" y2="194.85" stroke="#333" stroke-width="0.5"/>
<text x="175.50" y="198.85" text-anchor="middle" font-size="4.24" textLength="17.76" lengthAdjust="spacingAndGlyphs" text-rendering="optimizeLegibility" stroke="#000" stroke-width="0.14">concerned</text>
<path d="M129.4 191.4 L136 191.4 L136 189 L134.35 187.2 L136 183.5 L136 183.1 L129.4 183.1 L129.4 183.5 L131.05 187.2 L129.4 189 L129.4 191.4Z" fill="#f2fafa" stroke="#4a80ad" stroke-width="0.4" stroke-linejoin="miter"/>
<line x1="132.7" y1="183.1" x2="132.7" y2="178.8" stroke="#333333" stroke-width="0.55"/>
<line x1="131.05" y1="191.4" x2="134.35" y2="191.4" stroke="#333333" stroke-width="0.8"/>
<line x1="131.05" y1="178.8" x2="134.35" y2="178.8" stroke="#333333" stroke-width="0.8"/>
<line x1="131.05" y1="187.2" x2="134.35" y2="187.2" stroke="#000" stroke-width="1.0"/>
<path d="M172.2 182.7 L178.8 182.7 L178.8 175.3 L177.15 173 L178.8 168 L178.8 165.9 L172.2 165.9 L172.2 168 L173.85 173 L172.2 175.3 L172.2 182.7Z" fill="#fff7f8" stroke="#a8324f" stroke-width="0.4" stroke-linejoin="miter"/>
<line x1="175.5" y1="182.7" x2="175.5" y2="186.8" stroke="#333333" stroke-width="0.55"/>
<line x1="175.5" y1="165.9" x2="175.5" y2="152.6" stroke="#333333" stroke-width="0.55"/>
<line x1="173.85" y1="186.8" x2="177.15" y2="186.8" stroke="#333333" stroke-width="0.8"/>
<line x1="173.85" y1="152.6" x2="177.15" y2="152.6" stroke="#333333" stroke-width="0.8"/>
<line x1="173.85" y1="173" x2="177.15" y2="173" stroke="#000" stroke-width="1.0"/>
<line x1="111.3" y1="180.6" x2="196.9" y2="180.6" stroke="#767a78" stroke-width="0.8" stroke-dasharray="1.7 0.95"/>
<line x1="111.3" y1="183.3" x2="196.9" y2="183.3" stroke="#2e2e7c" stroke-width="0.8" stroke-dasharray="1.7 0.95"/>
<rect x="111.3" y="150.9" width="85.6" height="42.75" fill="none" stroke="#333" stroke-width="0.5"/>
<text x="253.40" y="149.45" text-anchor="middle" font-size="5.52" textLength="48.99" lengthAdjust="spacingAndGlyphs" text-rendering="optimizeLegibility" stroke="#000" stroke-width="0.08">Education (N = 169)</text>
<line x1="209.4" y1="152.2" x2="210.6" y2="152.2" stroke="#333" stroke-width="0.5"/>
<text x="208.20" y="153.55" text-anchor="end" font-size="4.07" textLength="2.16" lengthAdjust="spacingAndGlyphs" text-rendering="optimizeLegibility" stroke="#000" stroke-width="0.16">4</text>
<line x1="209.4" y1="162.5" x2="210.6" y2="162.5" stroke="#333" stroke-width="0.5"/>
<text x="208.20" y="163.85" text-anchor="end" font-size="4.07" textLength="2.16" lengthAdjust="spacingAndGlyphs" text-rendering="optimizeLegibility" stroke="#000" stroke-width="0.16">3</text>
<line x1="209.4" y1="172.8" x2="210.6" y2="172.8" stroke="#333" stroke-width="0.5"/>
<text x="208.20" y="174.15" text-anchor="end" font-size="4.07" textLength="2.16" lengthAdjust="spacingAndGlyphs" text-rendering="optimizeLegibility" stroke="#000" stroke-width="0.16">2</text>
<line x1="209.4" y1="183.1" x2="210.6" y2="183.1" stroke="#333" stroke-width="0.5"/>
<text x="208.20" y="184.45" text-anchor="end" font-size="4.07" textLength="2.16" lengthAdjust="spacingAndGlyphs" text-rendering="optimizeLegibility" stroke="#000" stroke-width="0.16">1</text>
<line x1="209.4" y1="193.4" x2="210.6" y2="193.4" stroke="#333" stroke-width="0.5"/>
<text x="208.20" y="194.75" text-anchor="end" font-size="4.07" textLength="2.16" lengthAdjust="spacingAndGlyphs" text-rendering="optimizeLegibility" stroke="#000" stroke-width="0.16">0</text>
<line x1="232" y1="193.65" x2="232" y2="194.85" stroke="#333" stroke-width="0.5"/>
<text x="232.00" y="198.85" text-anchor="middle" font-size="4.24" textLength="20.49" lengthAdjust="spacingAndGlyphs" text-rendering="optimizeLegibility" stroke="#000" stroke-width="0.14">comfortable</text>
<line x1="274.8" y1="193.65" x2="274.8" y2="194.85" stroke="#333" stroke-width="0.5"/>
<text x="274.80" y="198.85" text-anchor="middle" font-size="4.24" textLength="17.76" lengthAdjust="spacingAndGlyphs" text-rendering="optimizeLegibility" stroke="#000" stroke-width="0.14">concerned</text>
<path d="M228.7 162.5 L235.3 162.5 L235.3 160 L233.65 157.5 L235.3 155 L235.3 152 L228.7 152 L228.7 155 L230.35 157.5 L228.7 160 L228.7 162.5Z" fill="#f2fafa" stroke="#4a80ad" stroke-width="0.4" stroke-linejoin="miter"/>
<line x1="232" y1="162.5" x2="232" y2="172.8" stroke="#333333" stroke-width="0.55"/>
<line x1="230.35" y1="172.8" x2="233.65" y2="172.8" stroke="#333333" stroke-width="0.8"/>
<line x1="230.35" y1="152" x2="233.65" y2="152" stroke="#333333" stroke-width="0.8"/>
<line x1="230.35" y1="157.5" x2="233.65" y2="157.5" stroke="#000" stroke-width="1.0"/>
<path d="M271.5 162.5 L278.1 162.5 L278.1 160 L276.45 157.5 L278.1 152.5 L278.1 152 L271.5 152 L271.5 152.5 L273.15 157.5 L271.5 160 L271.5 162.5Z" fill="#fff7f8" stroke="#a8324f" stroke-width="0.4" stroke-linejoin="miter"/>
<line x1="274.8" y1="162.5" x2="274.8" y2="172.8" stroke="#333333" stroke-width="0.55"/>
<line x1="273.15" y1="172.8" x2="276.45" y2="172.8" stroke="#333333" stroke-width="0.8"/>
<line x1="273.15" y1="152" x2="276.45" y2="152" stroke="#333333" stroke-width="0.8"/>
<line x1="273.15" y1="157.5" x2="276.45" y2="157.5" stroke="#000" stroke-width="1.0"/>
<line x1="210.6" y1="157.5" x2="296.2" y2="157.5" stroke="#2e2e7c" stroke-width="0.8" stroke-dasharray="1.7 0.95"/>
<rect x="210.6" y="150.9" width="85.6" height="42.75" fill="none" stroke="#333" stroke-width="0.5"/>
<text x="352.40" y="149.45" text-anchor="middle" font-size="5.52" textLength="42.76" lengthAdjust="spacingAndGlyphs" text-rendering="optimizeLegibility" stroke="#000" stroke-width="0.08">Income (N = 162)</text>
<line x1="308.4" y1="152.6" x2="309.6" y2="152.6" stroke="#333" stroke-width="0.5"/>
<text x="307.20" y="153.95" text-anchor="end" font-size="4.07" textLength="2.16" lengthAdjust="spacingAndGlyphs" text-rendering="optimizeLegibility" stroke="#000" stroke-width="0.16">8</text>
<line x1="308.4" y1="165.6" x2="309.6" y2="165.6" stroke="#333" stroke-width="0.5"/>
<text x="307.20" y="166.95" text-anchor="end" font-size="4.07" textLength="2.16" lengthAdjust="spacingAndGlyphs" text-rendering="optimizeLegibility" stroke="#000" stroke-width="0.16">6</text>
<line x1="308.4" y1="178.6" x2="309.6" y2="178.6" stroke="#333" stroke-width="0.5"/>
<text x="307.20" y="179.95" text-anchor="end" font-size="4.07" textLength="2.16" lengthAdjust="spacingAndGlyphs" text-rendering="optimizeLegibility" stroke="#000" stroke-width="0.16">4</text>
<line x1="308.4" y1="191.6" x2="309.6" y2="191.6" stroke="#333" stroke-width="0.5"/>
<text x="307.20" y="192.95" text-anchor="end" font-size="4.07" textLength="2.16" lengthAdjust="spacingAndGlyphs" text-rendering="optimizeLegibility" stroke="#000" stroke-width="0.16">2</text>
<line x1="331" y1="193.65" x2="331" y2="194.85" stroke="#333" stroke-width="0.5"/>
<text x="331.00" y="198.85" text-anchor="middle" font-size="4.24" textLength="20.49" lengthAdjust="spacingAndGlyphs" text-rendering="optimizeLegibility" stroke="#000" stroke-width="0.14">comfortable</text>
<line x1="373.8" y1="193.65" x2="373.8" y2="194.85" stroke="#333" stroke-width="0.5"/>
<text x="373.80" y="198.85" text-anchor="middle" font-size="4.24" textLength="17.76" lengthAdjust="spacingAndGlyphs" text-rendering="optimizeLegibility" stroke="#000" stroke-width="0.14">concerned</text>
<path d="M327.7 185.4 L334.3 185.4 L334.3 178.3 L332.65 175.6 L334.3 173 L334.3 165.9 L327.7 165.9 L327.7 173 L329.35 175.6 L327.7 178.3 L327.7 185.4Z" fill="#f2fafa" stroke="#4a80ad" stroke-width="0.4" stroke-linejoin="miter"/>
<line x1="331" y1="185.4" x2="331" y2="191.6" stroke="#333333" stroke-width="0.55"/>
<line x1="331" y1="165.9" x2="331" y2="152.6" stroke="#333333" stroke-width="0.55"/>
<line x1="329.35" y1="191.6" x2="332.65" y2="191.6" stroke="#333333" stroke-width="0.8"/>
<line x1="329.35" y1="152.6" x2="332.65" y2="152.6" stroke="#333333" stroke-width="0.8"/>
<line x1="329.35" y1="175.6" x2="332.65" y2="175.6" stroke="#000" stroke-width="1.0"/>
<path d="M370.5 185.1 L377.1 185.1 L377.1 184.5 L375.45 179.2 L377.1 174 L377.1 171.7 L370.5 171.7 L370.5 174 L372.15 179.2 L370.5 184.5 L370.5 185.1Z" fill="#fff7f8" stroke="#a8324f" stroke-width="0.4" stroke-linejoin="miter"/>
<line x1="373.8" y1="185.1" x2="373.8" y2="191.6" stroke="#333333" stroke-width="0.55"/>
<line x1="373.8" y1="171.7" x2="373.8" y2="165.9" stroke="#333333" stroke-width="0.55"/>
<line x1="372.15" y1="191.6" x2="375.45" y2="191.6" stroke="#333333" stroke-width="0.8"/>
<line x1="372.15" y1="165.9" x2="375.45" y2="165.9" stroke="#333333" stroke-width="0.8"/>
<line x1="372.15" y1="179.2" x2="375.45" y2="179.2" stroke="#000" stroke-width="1.0"/>
<line x1="309.6" y1="176.3" x2="395.2" y2="176.3" stroke="#2e2e7c" stroke-width="0.8" stroke-dasharray="1.7 0.95"/>
<rect x="309.6" y="150.9" width="85.6" height="42.75" fill="none" stroke="#333" stroke-width="0.5"/>
<text x="55.20" y="207.55" text-anchor="middle" font-size="5.52" textLength="74.48" lengthAdjust="spacingAndGlyphs" text-rendering="optimizeLegibility" stroke="#000" stroke-width="0.08">Covid-19 Riskfactors (N = 173)</text>
<line x1="11.2" y1="210.6" x2="12.4" y2="210.6" stroke="#333" stroke-width="0.5"/>
<text x="10.00" y="211.95" text-anchor="end" font-size="4.07" textLength="5.39" lengthAdjust="spacingAndGlyphs" text-rendering="optimizeLegibility" stroke="#000" stroke-width="0.16">1.0</text>
<line x1="11.2" y1="218.4" x2="12.4" y2="218.4" stroke="#333" stroke-width="0.5"/>
<text x="10.00" y="219.75" text-anchor="end" font-size="4.07" textLength="5.39" lengthAdjust="spacingAndGlyphs" text-rendering="optimizeLegibility" stroke="#000" stroke-width="0.16">0.8</text>
<line x1="11.2" y1="226.2" x2="12.4" y2="226.2" stroke="#333" stroke-width="0.5"/>
<text x="10.00" y="227.55" text-anchor="end" font-size="4.07" textLength="5.39" lengthAdjust="spacingAndGlyphs" text-rendering="optimizeLegibility" stroke="#000" stroke-width="0.16">0.6</text>
<line x1="11.2" y1="234" x2="12.4" y2="234" stroke="#333" stroke-width="0.5"/>
<text x="10.00" y="235.35" text-anchor="end" font-size="4.07" textLength="5.39" lengthAdjust="spacingAndGlyphs" text-rendering="optimizeLegibility" stroke="#000" stroke-width="0.16">0.4</text>
<line x1="11.2" y1="241.8" x2="12.4" y2="241.8" stroke="#333" stroke-width="0.5"/>
<text x="10.00" y="243.15" text-anchor="end" font-size="4.07" textLength="5.39" lengthAdjust="spacingAndGlyphs" text-rendering="optimizeLegibility" stroke="#000" stroke-width="0.16">0.2</text>
<line x1="11.2" y1="249.6" x2="12.4" y2="249.6" stroke="#333" stroke-width="0.5"/>
<text x="10.00" y="250.95" text-anchor="end" font-size="4.07" textLength="5.39" lengthAdjust="spacingAndGlyphs" text-rendering="optimizeLegibility" stroke="#000" stroke-width="0.16">0.0</text>
<line x1="33.8" y1="251.75" x2="33.8" y2="252.95" stroke="#333" stroke-width="0.5"/>
<text x="33.80" y="256.95" text-anchor="middle" font-size="4.24" textLength="20.49" lengthAdjust="spacingAndGlyphs" text-rendering="optimizeLegibility" stroke="#000" stroke-width="0.14">comfortable</text>
<line x1="76.6" y1="251.75" x2="76.6" y2="252.95" stroke="#333" stroke-width="0.5"/>
<text x="76.60" y="256.95" text-anchor="middle" font-size="4.24" textLength="17.76" lengthAdjust="spacingAndGlyphs" text-rendering="optimizeLegibility" stroke="#000" stroke-width="0.14">concerned</text>
<path d="M30.5 249.6 L37.1 249.6 L37.1 239.9 L35.45 234.2 L37.1 228.3 L37.1 210.6 L30.5 210.6 L30.5 228.3 L32.15 234.2 L30.5 239.9 L30.5 249.6Z" fill="#f2fafa" stroke="#4a80ad" stroke-width="0.4" stroke-linejoin="miter"/>
<line x1="32.15" y1="249.6" x2="35.45" y2="249.6" stroke="#333333" stroke-width="0.8"/>
<line x1="32.15" y1="210.6" x2="35.45" y2="210.6" stroke="#333333" stroke-width="0.8"/>
<line x1="32.15" y1="234.2" x2="35.45" y2="234.2" stroke="#000" stroke-width="1.0"/>
<path d="M73.3 249.6 L79.9 249.6 L79.9 241.6 L78.25 233.3 L79.9 224.8 L79.9 210.6 L73.3 210.6 L73.3 224.8 L74.95 233.3 L73.3 241.6 L73.3 249.6Z" fill="#fff7f8" stroke="#a8324f" stroke-width="0.4" stroke-linejoin="miter"/>
<line x1="74.95" y1="249.6" x2="78.25" y2="249.6" stroke="#333333" stroke-width="0.8"/>
<line x1="74.95" y1="210.6" x2="78.25" y2="210.6" stroke="#333333" stroke-width="0.8"/>
<line x1="74.95" y1="233.3" x2="78.25" y2="233.3" stroke="#000" stroke-width="1.0"/>
<line x1="12.4" y1="234.2" x2="98" y2="234.2" stroke="#2e2e7c" stroke-width="0.8" stroke-dasharray="1.7 0.95"/>
<rect x="12.4" y="209" width="85.6" height="42.75" fill="none" stroke="#333" stroke-width="0.5"/>
<text x="154.10" y="207.55" text-anchor="middle" font-size="5.52" textLength="78.57" lengthAdjust="spacingAndGlyphs" text-rendering="optimizeLegibility" stroke="#000" stroke-width="0.08"><tspan font-style="italic">Number of Riskfactors (N = 173)</tspan></text>
<line x1="110.1" y1="210.2" x2="111.3" y2="210.2" stroke="#333" stroke-width="0.5"/>
<text x="108.90" y="211.55" text-anchor="end" font-size="4.07" textLength="5.39" lengthAdjust="spacingAndGlyphs" text-rendering="optimizeLegibility" stroke="#000" stroke-width="0.16">2.0</text>
<line x1="110.1" y1="220" x2="111.3" y2="220" stroke="#333" stroke-width="0.5"/>
<text x="108.90" y="221.35" text-anchor="end" font-size="4.07" textLength="5.39" lengthAdjust="spacingAndGlyphs" text-rendering="optimizeLegibility" stroke="#000" stroke-width="0.16">1.5</text>
<line x1="110.1" y1="229.9" x2="111.3" y2="229.9" stroke="#333" stroke-width="0.5"/>
<text x="108.90" y="231.25" text-anchor="end" font-size="4.07" textLength="5.39" lengthAdjust="spacingAndGlyphs" text-rendering="optimizeLegibility" stroke="#000" stroke-width="0.16">1.0</text>
<line x1="110.1" y1="239.7" x2="111.3" y2="239.7" stroke="#333" stroke-width="0.5"/>
<text x="108.90" y="241.05" text-anchor="end" font-size="4.07" textLength="5.39" lengthAdjust="spacingAndGlyphs" text-rendering="optimizeLegibility" stroke="#000" stroke-width="0.16">0.5</text>
<line x1="110.1" y1="249.6" x2="111.3" y2="249.6" stroke="#333" stroke-width="0.5"/>
<text x="108.90" y="250.95" text-anchor="end" font-size="4.07" textLength="5.39" lengthAdjust="spacingAndGlyphs" text-rendering="optimizeLegibility" stroke="#000" stroke-width="0.16">0.0</text>
<line x1="132.7" y1="251.75" x2="132.7" y2="252.95" stroke="#333" stroke-width="0.5"/>
<text x="132.70" y="256.95" text-anchor="middle" font-size="4.24" textLength="20.49" lengthAdjust="spacingAndGlyphs" text-rendering="optimizeLegibility" stroke="#000" stroke-width="0.14">comfortable</text>
<line x1="175.5" y1="251.75" x2="175.5" y2="252.95" stroke="#333" stroke-width="0.5"/>
<text x="175.50" y="256.95" text-anchor="middle" font-size="4.24" textLength="17.76" lengthAdjust="spacingAndGlyphs" text-rendering="optimizeLegibility" stroke="#000" stroke-width="0.14">concerned</text>
<path d="M129.4 249.8 L136 249.8 L136 245.6 L134.35 243.2 L136 240.4 L136 230.3 L129.4 230.3 L129.4 240.4 L131.05 243.2 L129.4 245.6 L129.4 249.8Z" fill="#f2fafa" stroke="#4a80ad" stroke-width="0.4" stroke-linejoin="miter"/>
<line x1="131.05" y1="249.8" x2="134.35" y2="249.8" stroke="#333333" stroke-width="0.8"/>
<line x1="131.05" y1="230.3" x2="134.35" y2="230.3" stroke="#333333" stroke-width="0.8"/>
<line x1="131.05" y1="243.2" x2="134.35" y2="243.2" stroke="#000" stroke-width="1.0"/>
<path d="M172.2 249.6 L178.8 249.6 L178.8 241.6 L177.15 237.6 L178.8 230 L178.8 230.1 L172.2 230.1 L172.2 230 L173.85 237.6 L172.2 241.6 L172.2 249.6Z" fill="#fff7f8" stroke="#a8324f" stroke-width="0.4" stroke-linejoin="miter"/>
<line x1="175.5" y1="230.1" x2="175.5" y2="210.6" stroke="#333333" stroke-width="0.55"/>
<line x1="173.85" y1="249.6" x2="177.15" y2="249.6" stroke="#333333" stroke-width="0.8"/>
<line x1="173.85" y1="210.6" x2="177.15" y2="210.6" stroke="#333333" stroke-width="0.8"/>
<line x1="173.85" y1="237.6" x2="177.15" y2="237.6" stroke="#000" stroke-width="1.0"/>
<line x1="111.3" y1="241.6" x2="196.9" y2="241.6" stroke="#2e2e7c" stroke-width="0.8" stroke-dasharray="1.7 0.95"/>
<rect x="111.3" y="209" width="85.6" height="42.75" fill="none" stroke="#333" stroke-width="0.5"/>
<text x="253.40" y="207.55" text-anchor="middle" font-size="5.52" textLength="67.77" lengthAdjust="spacingAndGlyphs" text-rendering="optimizeLegibility" stroke="#000" stroke-width="0.08">Contact to Others (N = 171)</text>
<line x1="209.4" y1="211.4" x2="210.6" y2="211.4" stroke="#333" stroke-width="0.5"/>
<text x="208.20" y="212.75" text-anchor="end" font-size="4.07" textLength="4.31" lengthAdjust="spacingAndGlyphs" text-rendering="optimizeLegibility" stroke="#000" stroke-width="0.16">20</text>
<line x1="209.4" y1="222.5" x2="210.6" y2="222.5" stroke="#333" stroke-width="0.5"/>
<text x="208.20" y="223.85" text-anchor="end" font-size="4.07" textLength="4.31" lengthAdjust="spacingAndGlyphs" text-rendering="optimizeLegibility" stroke="#000" stroke-width="0.16">15</text>
<line x1="209.4" y1="233.6" x2="210.6" y2="233.6" stroke="#333" stroke-width="0.5"/>
<text x="208.20" y="234.95" text-anchor="end" font-size="4.07" textLength="4.31" lengthAdjust="spacingAndGlyphs" text-rendering="optimizeLegibility" stroke="#000" stroke-width="0.16">10</text>
<line x1="209.4" y1="244.7" x2="210.6" y2="244.7" stroke="#333" stroke-width="0.5"/>
<text x="208.20" y="246.05" text-anchor="end" font-size="4.07" textLength="2.16" lengthAdjust="spacingAndGlyphs" text-rendering="optimizeLegibility" stroke="#000" stroke-width="0.16">5</text>
<line x1="232" y1="251.75" x2="232" y2="252.95" stroke="#333" stroke-width="0.5"/>
<text x="232.00" y="256.95" text-anchor="middle" font-size="4.24" textLength="20.49" lengthAdjust="spacingAndGlyphs" text-rendering="optimizeLegibility" stroke="#000" stroke-width="0.14">comfortable</text>
<line x1="274.8" y1="251.75" x2="274.8" y2="252.95" stroke="#333" stroke-width="0.5"/>
<text x="274.80" y="256.95" text-anchor="middle" font-size="4.24" textLength="17.76" lengthAdjust="spacingAndGlyphs" text-rendering="optimizeLegibility" stroke="#000" stroke-width="0.14">concerned</text>
<path d="M228.7 244.3 L235.3 244.3 L235.3 241 L233.65 239 L235.3 237 L235.3 237.6 L228.7 237.6 L228.7 237 L230.35 239 L228.7 241 L228.7 244.3Z" fill="#f2fafa" stroke="#4a80ad" stroke-width="0.4" stroke-linejoin="miter"/>
<line x1="232" y1="244.3" x2="232" y2="249.6" stroke="#333333" stroke-width="0.55"/>
<line x1="232" y1="237.6" x2="232" y2="210.9" stroke="#333333" stroke-width="0.55"/>
<line x1="230.35" y1="249.6" x2="233.65" y2="249.6" stroke="#333333" stroke-width="0.8"/>
<line x1="230.35" y1="210.9" x2="233.65" y2="210.9" stroke="#333333" stroke-width="0.8"/>
<line x1="230.35" y1="239" x2="233.65" y2="239" stroke="#000" stroke-width="1.0"/>
<path d="M271.5 244.7 L278.1 244.7 L278.1 243 L276.45 239.9 L278.1 235 L278.1 235.4 L271.5 235.4 L271.5 235 L273.15 239.9 L271.5 243 L271.5 244.7Z" fill="#fff7f8" stroke="#a8324f" stroke-width="0.4" stroke-linejoin="miter"/>
<line x1="274.8" y1="244.7" x2="274.8" y2="247.5" stroke="#333333" stroke-width="0.55"/>
<line x1="274.8" y1="235.4" x2="274.8" y2="231" stroke="#333333" stroke-width="0.55"/>
<line x1="273.15" y1="247.5" x2="276.45" y2="247.5" stroke="#333333" stroke-width="0.8"/>
<line x1="273.15" y1="231" x2="276.45" y2="231" stroke="#333333" stroke-width="0.8"/>
<line x1="273.15" y1="239.9" x2="276.45" y2="239.9" stroke="#000" stroke-width="1.0"/>
<line x1="210.6" y1="239.3" x2="296.2" y2="239.3" stroke="#2e2e7c" stroke-width="0.8" stroke-dasharray="1.7 0.95"/>
<rect x="210.6" y="209" width="85.6" height="42.75" fill="none" stroke="#333" stroke-width="0.5"/>
<text x="352.40" y="207.55" text-anchor="middle" font-size="5.52" textLength="97.42" lengthAdjust="spacingAndGlyphs" text-rendering="optimizeLegibility" stroke="#000" stroke-width="0.08">Multiple Participation in WBCE (N = 173)</text>
<line x1="308.4" y1="212.7" x2="309.6" y2="212.7" stroke="#333" stroke-width="0.5"/>
<text x="307.20" y="214.05" text-anchor="end" font-size="4.07" textLength="7.55" lengthAdjust="spacingAndGlyphs" text-rendering="optimizeLegibility" stroke="#000" stroke-width="0.16">12.5</text>
<line x1="308.4" y1="220.7" x2="309.6" y2="220.7" stroke="#333" stroke-width="0.5"/>
<text x="307.20" y="222.05" text-anchor="end" font-size="4.07" textLength="7.55" lengthAdjust="spacingAndGlyphs" text-rendering="optimizeLegibility" stroke="#000" stroke-width="0.16">10.0</text>
<line x1="308.4" y1="228.8" x2="309.6" y2="228.8" stroke="#333" stroke-width="0.5"/>
<text x="307.20" y="230.15" text-anchor="end" font-size="4.07" textLength="5.39" lengthAdjust="spacingAndGlyphs" text-rendering="optimizeLegibility" stroke="#000" stroke-width="0.16">7.5</text>
<line x1="308.4" y1="236.8" x2="309.6" y2="236.8" stroke="#333" stroke-width="0.5"/>
<text x="307.20" y="238.15" text-anchor="end" font-size="4.07" textLength="5.39" lengthAdjust="spacingAndGlyphs" text-rendering="optimizeLegibility" stroke="#000" stroke-width="0.16">5.0</text>
<line x1="308.4" y1="244.8" x2="309.6" y2="244.8" stroke="#333" stroke-width="0.5"/>
<text x="307.20" y="246.15" text-anchor="end" font-size="4.07" textLength="5.39" lengthAdjust="spacingAndGlyphs" text-rendering="optimizeLegibility" stroke="#000" stroke-width="0.16">2.5</text>
<line x1="331" y1="251.75" x2="331" y2="252.95" stroke="#333" stroke-width="0.5"/>
<text x="331.00" y="256.95" text-anchor="middle" font-size="4.24" textLength="20.49" lengthAdjust="spacingAndGlyphs" text-rendering="optimizeLegibility" stroke="#000" stroke-width="0.14">comfortable</text>
<line x1="373.8" y1="251.75" x2="373.8" y2="252.95" stroke="#333" stroke-width="0.5"/>
<text x="373.80" y="256.95" text-anchor="middle" font-size="4.24" textLength="17.76" lengthAdjust="spacingAndGlyphs" text-rendering="optimizeLegibility" stroke="#000" stroke-width="0.14">concerned</text>
<path d="M327.7 249.4 L334.3 249.4 L334.3 240.1 L332.65 236.9 L334.3 232 L334.3 236.9 L327.7 236.9 L327.7 232 L329.35 236.9 L327.7 240.1 L327.7 249.4Z" fill="#f2fafa" stroke="#4a80ad" stroke-width="0.4" stroke-linejoin="miter"/>
<line x1="331" y1="236.9" x2="331" y2="210.9" stroke="#333333" stroke-width="0.55"/>
<line x1="329.35" y1="249.4" x2="332.65" y2="249.4" stroke="#333333" stroke-width="0.8"/>
<line x1="329.35" y1="210.9" x2="332.65" y2="210.9" stroke="#333333" stroke-width="0.8"/>
<line x1="329.35" y1="236.9" x2="332.65" y2="236.9" stroke="#000" stroke-width="1.0"/>
<path d="M370.5 249.6 L377.1 249.6 L377.1 243.4 L375.45 237.6 L377.1 237.6 L377.1 237.6 L370.5 237.6 L370.5 237.6 L372.15 237.6 L370.5 243.4 L370.5 249.6Z" fill="#fff7f8" stroke="#a8324f" stroke-width="0.4" stroke-linejoin="miter"/>
<line x1="373.8" y1="237.6" x2="373.8" y2="220.4" stroke="#333333" stroke-width="0.55"/>
<line x1="372.15" y1="249.6" x2="375.45" y2="249.6" stroke="#333333" stroke-width="0.8"/>
<line x1="372.15" y1="220.4" x2="375.45" y2="220.4" stroke="#333333" stroke-width="0.8"/>
<line x1="372.15" y1="237.6" x2="375.45" y2="237.6" stroke="#000" stroke-width="1.0"/>
<line x1="309.6" y1="238.2" x2="395.2" y2="238.2" stroke="#2e2e7c" stroke-width="0.8" stroke-dasharray="1.7 0.95"/>
<rect x="309.6" y="209" width="85.6" height="42.75" fill="none" stroke="#333" stroke-width="0.5"/>
</svg></div>
</body></html>
